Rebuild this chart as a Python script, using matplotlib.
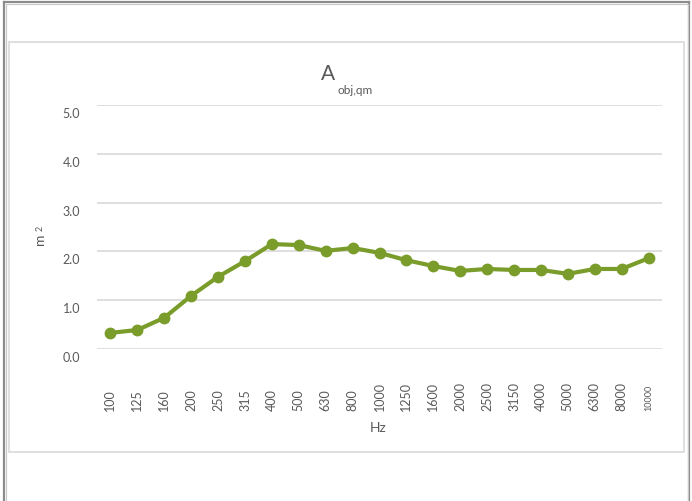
import matplotlib
matplotlib.use("Agg")
import matplotlib.pyplot as plt
import matplotlib.transforms as mtransforms
from matplotlib.patches import Rectangle

freq_labels = ["100", "125", "160", "200", "250", "315", "400", "500", "630", "800",
               "1000", "1250", "1600", "2000", "2500", "3150", "4000", "5000", "6300",
               "8000", "10000"]
values = [0.33, 0.39, 0.64, 1.09, 1.48, 1.80, 2.15, 2.13, 2.01, 2.07,
          1.97, 1.82, 1.70, 1.60, 1.64, 1.62, 1.62, 1.54, 1.64, 1.64, 1.86]
y_ticks = [0.0, 1.0, 2.0, 3.0, 4.0, 5.0]

FONT = "Lato"
TXT = "#595959"
W, H = 692, 502

fig = plt.figure(figsize=(W / 100, H / 100), dpi=100)
fig.patch.set_facecolor("white")

def fx(px):
    return px / W

def fy(py):
    return 1 - py / H

# outer frame (double gray line)
for off, col, lw in [(0, "#8c8c8c", 1.6), (1.5, "#c8c8c8", 0.8)]:
    fig.add_artist(plt.Line2D([fx(4 + off), fx(4 + off)], [0, fy(3 + off)], color=col, lw=lw))
    fig.add_artist(plt.Line2D([fx(689 - off), fx(689 - off)], [0, fy(3 + off)], color=col, lw=lw))
    fig.add_artist(plt.Line2D([fx(4 + off), fx(689 - off)], [fy(3 + off), fy(3 + off)], color=col, lw=lw))

# inner chart area box
fig.add_artist(Rectangle((fx(9), fy(453)), fx(684) - fx(9), fy(43) - fy(453),
                         transform=fig.transFigure, fill=False, ec="#d9d9d9", lw=1.2))

ax = fig.add_axes([fx(97), fy(350), fx(662) - fx(97), fy(106) - fy(350)])
x = list(range(len(freq_labels)))
ax.plot(x, values, color="#7a9c2a", lw=3.0, marker="o", ms=7.5, zorder=3,
        solid_joinstyle="round")
ax.set_xlim(-0.5, len(freq_labels) - 0.5)
ax.set_ylim(0, 5.0)
ax.set_yticks(y_ticks)
ax.set_yticklabels([f"{v:.1f}" for v in y_ticks], fontsize=9, family=FONT, color=TXT)
ax.set_xticks(x)
ax.set_xticklabels(freq_labels, rotation=90, fontsize=9, family=FONT, color=TXT)
for lab in ax.get_xticklabels():
    lab.set_va("bottom")
ax.get_xticklabels()[-1].set_fontsize(6.5)
ax.tick_params(axis="both", length=0)
ax.tick_params(axis="y", pad=12)
ax.tick_params(axis="x", pad=44)
off = mtransforms.ScaledTranslation(0, -7 / 100, fig.dpi_scale_trans)
for lab in ax.get_yticklabels():
    lab.set_transform(lab.get_transform() + off)
ax.grid(axis="y", color="#d9d9d9", lw=1.2)
ax.set_axisbelow(True)
for s in ax.spines.values():
    s.set_visible(False)

# axis titles
fig.text(fx(378), fy(428), "Hz", ha="center", va="center", fontsize=10, family=FONT, color=TXT)
fig.text(fx(40), fy(239), "m", ha="center", va="center", rotation=90, fontsize=10,
         family=FONT, color=TXT)
fig.text(fx(40.5), fy(228), "2", ha="center", va="center", rotation=90, fontsize=6.5,
         family=FONT, color=TXT)

# chart title
fig.text(fx(328), fy(74), "A", ha="center", va="center", fontsize=15, family=FONT, color=TXT)
fig.text(fx(355), fy(91), "obj,qm", ha="center", va="center", fontsize=8.5, family=FONT, color=TXT)

fig.savefig("out.png", dpi=100, facecolor="white")
